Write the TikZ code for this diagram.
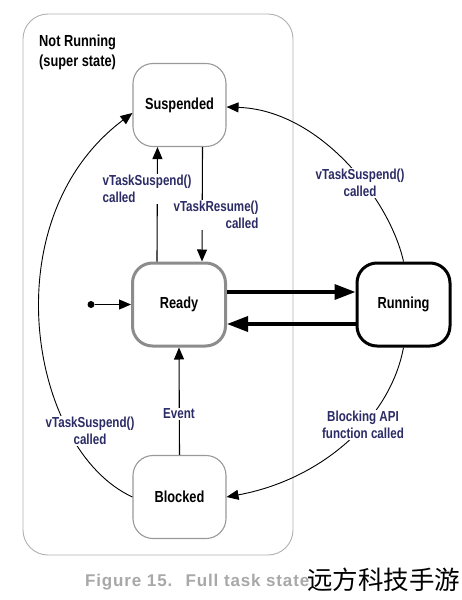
\documentclass[tikz,border=0pt]{standalone}
\usepackage{fontspec}
\setmainfont{Liberation Sans}[FakeStretch=0.8]
\newfontfamily\capfont{Liberation Sans}[LetterSpace=5]
\newfontfamily\cjkfont{Noto Sans CJK SC}
\usetikzlibrary{arrows.meta}
\definecolor{lab}{HTML}{2B2B66}
\definecolor{boxgray}{HTML}{999999}
\definecolor{readygray}{HTML}{8C8C8C}
\definecolor{supergray}{HTML}{B0B0B0}
\definecolor{capgray}{HTML}{A8A8A8}
\begin{document}
\begin{tikzpicture}[x=1pt,y=-1pt,
  state/.style={draw=boxgray, line width=1.1pt, rounded corners=20pt, minimum width=93pt, minimum height=83pt,
    font=\fontsize{16}{19}\selectfont\bfseries, align=center},
  lbl/.style={fill=white, inner sep=1pt, text=lab, font=\fontsize{14.5}{16.5}\selectfont\bfseries},
  arr/.style={line width=1.1pt, -{Triangle[length=12pt,width=10pt]}},
  thickarr/.style={line width=3.5pt, -{Triangle[length=21pt,width=15pt]}},
  curvearr/.style={line width=0.9pt, -{Triangle[length=12pt,width=10pt]}},
  captext/.style={anchor=base west, inner sep=0, text=capgray, font=\capfont\fontsize{17}{19}\selectfont\bfseries}
]
\useasboundingbox[fill=white] (0,0) rectangle (461,600);

% super state
\node[draw=supergray, line width=0.9pt, rounded corners=25pt, minimum width=270pt, minimum height=541pt] (super) at (158,284.5) {};
\node[anchor=north west, align=left, inner sep=0, font=\fontsize{16}{20}\selectfont\bfseries] (title) at (39,35) {Not Running\\(super state)};

% states
\node[state] (susp) at (179.5,105) {Suspended};
\node[state, draw=readygray, line width=3pt] (ready) at (179,304.5) {Ready};
\node[state, draw=black, line width=3pt] (run) at (403.5,304.5) {Running};
\node[state] (blk) at (179.5,497) {Blocked};

% initial
\node[circle, fill=black, inner sep=0, minimum size=7pt] (init) at (91,304.5) {};
\draw[arr] (init) -- (ready.west);

% ready <-> running
\draw[thickarr] ([yshift=12.5pt]ready.east) -- ([yshift=12.5pt]run.west);
\draw[thickarr] ([yshift=-19.5pt]run.west) -- ([yshift=-19.5pt]ready.east);

% ready <-> suspended
\draw[arr] ([xshift=-22pt]ready.north) -- ([xshift=-22pt]susp.south);
\draw[arr] ([xshift=23pt]susp.south) -- ([xshift=23pt]ready.north);

% blocked -> ready
\draw[arr] (blk.north) -- (ready.south);

% curves
\draw[curvearr] (blk.west) .. controls (30,450) and (-10,220) .. ([yshift=-8pt]susp.west);
\draw[curvearr] (run.north) .. controls (390,200) and (320,110) .. ([yshift=-2pt]susp.east);
\draw[curvearr] (run.south) .. controls (390,420) and (320,480) .. (blk.east);

% labels
\node[lbl, align=center] (la) at (90,431) {vTaskSuspend()\\called};
\node[lbl, align=left] (lb) at (147,189) {vTaskSuspend()\\called};
\node[lbl, align=right] (lc) at (216,215) {vTaskResume()\\called};
\node[lbl, align=center] (ld) at (360,183) {vTaskSuspend()\\called};
\node[lbl] (le) at (179,414) {Event};
\node[lbl, align=center] (lf) at (363,425) {Blocking API\\function called};

% caption and watermark
\node[captext] (cap1) at (85,586) {Figure 15.};
\node[captext] (cap2) at (185.5,586) {Full task state};
\node[anchor=west, inner sep=0, text=black, font=\cjkfont\fontsize{25.5}{28}\selectfont] (wm) at (307,580) {远方科技手游};
\end{tikzpicture}
\end{document}
